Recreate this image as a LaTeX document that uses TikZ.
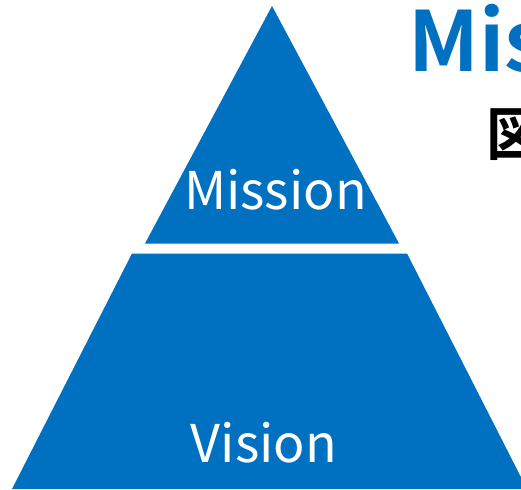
\documentclass[tikz,border=0pt]{standalone}
\usepackage{fontspec}
\setmainfont{Noto Sans CJK JP}
\newfontfamily\jpbold{Noto Sans CJK JP Bold}
\definecolor{tierblue}{HTML}{0070C0}
\begin{document}
\begin{tikzpicture}[x=1pt,y=-1pt,
  tier/.style={fill=tierblue,draw=none},
  tierlabel/.style={text=white,inner sep=0pt,anchor=base,font=\fontsize{52}{60}\selectfont}]
\useasboundingbox (0,0) rectangle (521,489);
% upper tier
\fill[tier] (272,6) -- (145,243.5) -- (399,243.5) -- cycle;
% lower tier
\fill[tier] (132,253.5) -- (407,253.5) -- (527,489) -- (12,489) -- cycle;
\node[tierlabel] (mission) at (275.5,209) {Mission};
\node[tierlabel] (vision) at (264,462) {Vision};
% heading
\node[inner sep=0pt,anchor=base west,text=tierblue,font=\jpbold\fontsize{83}{90}\selectfont] (title) at (408,72) {Mis};
\node[inner sep=0pt,anchor=base west,text=black,font=\jpbold\fontsize{58}{64}\selectfont] (subtitle) at (486.5,156) {図};
\end{tikzpicture}
\end{document}
